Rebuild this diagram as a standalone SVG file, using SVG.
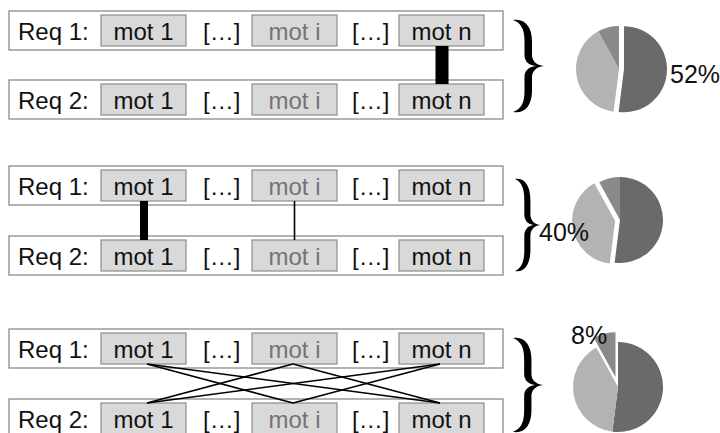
<svg xmlns="http://www.w3.org/2000/svg" width="720" height="433" viewBox="0 0 720 433">
<style>
.row{fill:#fff;stroke:#808080;stroke-width:1.2}
.box{fill:#d9d9d9;stroke:#8c8c8c;stroke-width:1.2}
.t{font-family:"Liberation Sans",Arial,sans-serif;font-size:24px;fill:#111}
.g{fill:#747474}
.c{text-anchor:middle}
.pct{font-family:"Liberation Sans",Arial,sans-serif;font-size:25px;fill:#111}
.dark{fill:#6a6a6a}
.light{fill:#b3b3b3}
.med{fill:#8a8a8a}
.ln{stroke:#000;stroke-width:1.6;fill:none}
</style>
<defs>
<path id="brace" d="M0,1 C12,-1 19,8 19,22 L19,36 C19,42 23,46 31,47 C23,48 19,52 19,58 L19,72 C19,86 12,95 0,93 C8,90 11.5,84 11.5,72 L11.5,58 C11.5,52 15,48 23,47 C15,46 11.5,42 11.5,36 L11.5,22 C11.5,10 8,4 0,1 Z"/>
<g id="req1">
<rect class="row" x="9" y="0" width="494" height="39"/>
<rect class="box" x="101" y="4" width="85" height="31"/>
<rect class="box" x="252" y="4" width="85" height="31"/>
<rect class="box" x="399" y="4" width="85" height="31"/>
<text class="t" x="18" y="29">Req 1:</text>
<text class="t c" x="143.5" y="29">mot 1</text>
<text class="t" x="203" y="29">[…]</text>
<text class="t c g" x="294.5" y="29">mot i</text>
<text class="t" x="352" y="29">[…]</text>
<text class="t c" x="441.5" y="29">mot n</text>
</g>
<g id="req2">
<rect class="row" x="9" y="0" width="494" height="39"/>
<rect class="box" x="101" y="4" width="85" height="31"/>
<rect class="box" x="252" y="4" width="85" height="31"/>
<rect class="box" x="399" y="4" width="85" height="31"/>
<text class="t" x="18" y="29">Req 2:</text>
<text class="t c" x="143.5" y="29">mot 1</text>
<text class="t" x="203" y="29">[…]</text>
<text class="t c g" x="294.5" y="29">mot i</text>
<text class="t" x="352" y="29">[…]</text>
<text class="t c" x="441.5" y="29">mot n</text>
</g>
</defs>

<g id="s1-req1"><use href="#req1" x="0" y="11"/></g>
<g id="s1-req2"><use href="#req2" x="0" y="80"/></g>
<g id="s2-req1"><use href="#req1" x="0" y="166"/></g>
<g id="s2-req2"><use href="#req2" x="0" y="236"/></g>
<g id="s3-req1"><use href="#req1" x="0" y="329"/></g>
<g id="s3-req2"><use href="#req2" x="0" y="399"/></g>

<g id="connectors">
<rect x="435.5" y="46" width="13" height="38" fill="#000"/>
<rect x="140" y="201" width="8" height="39" fill="#000"/>
<line class="ln" x1="294.5" y1="201" x2="294.5" y2="240"/>
<line class="ln" x1="147" y1="364" x2="293" y2="403"/>
<line class="ln" x1="147" y1="364" x2="440" y2="403"/>
<line class="ln" x1="293" y1="364" x2="147" y2="403"/>
<line class="ln" x1="293" y1="364" x2="440" y2="403"/>
<line class="ln" x1="440" y1="364" x2="147" y2="403"/>
<line class="ln" x1="440" y1="364" x2="293" y2="403"/>
</g>

<g id="brace1"><use href="#brace" transform="translate(513,19)"/></g>
<g id="brace2"><use href="#brace" transform="translate(515,178) scale(0.81,1)"/></g>
<g id="brace3"><use href="#brace" transform="translate(513,337) scale(0.97,1.02)"/></g>

<g id="pie1" transform="translate(619,69)">
<path class="light" d="M0,0 L-5.39,42.66 A43,43 0 0 1 -20.72,-37.68 Z"/>
<path class="med" d="M0,0 L-20.72,-37.68 A43,43 0 0 1 0,-43 Z"/>
<path class="dark" transform="translate(5,0.3)" d="M0,0 L0,-43 A43,43 0 1 1 -5.39,42.66 Z"/>
</g>
<text class="pct" x="670" y="83">52%</text>

<g id="pie2" transform="translate(620,220)">
<path class="dark" d="M0,0 L0,-43 A43,43 0 1 1 -5.39,42.66 Z"/>
<path class="med" d="M0,0 L-20.72,-37.68 A43,43 0 0 1 0,-43 Z"/>
<path class="light" transform="translate(-4.9,0.94)" d="M0,0 L-5.39,42.66 A43,43 0 0 1 -20.72,-37.68 Z"/>
</g>
<text class="pct" x="539" y="241">40%</text>

<g id="pie3" transform="translate(618,387)">
<path class="dark" d="M0,0 L0,-45 A45,45 0 1 1 -5.64,44.64 Z"/>
<path class="light" d="M0,0 L-5.64,44.64 A45,45 0 0 1 -21.68,-39.43 Z"/>
<path class="med" transform="translate(-2.5,-9.7)" d="M0,0 L-21.68,-39.43 A45,45 0 0 1 0,-45 Z"/>
</g>
<text class="pct" x="571" y="344">8%</text>
</svg>
